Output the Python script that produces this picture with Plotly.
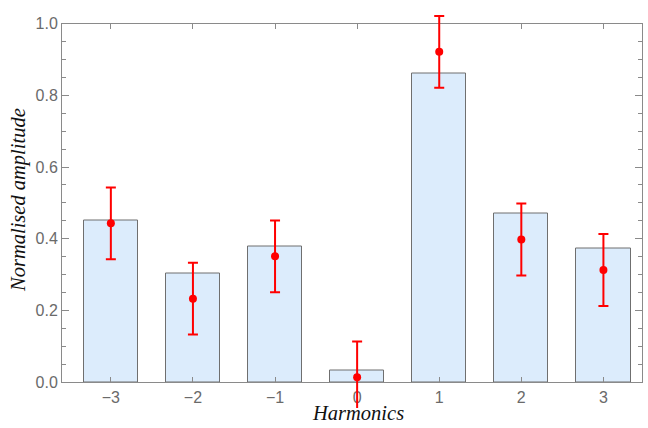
import plotly.graph_objects as go

harmonics = [-3, -2, -1, 0, 1, 2, 3]
bar_values = [0.452, 0.304, 0.379, 0.034, 0.861, 0.471, 0.374]
point_values = [0.443, 0.233, 0.351, 0.014, 0.921, 0.398, 0.313]
errors = [0.10, 0.10, 0.10, 0.10, 0.10, 0.10, 0.10]
y_ticks = [0.0, 0.2, 0.4, 0.6, 0.8, 1.0]

# layout geometry (pixels)
W, H = 648, 428
ML, MR, MT, MB = 62, 6, 4, 20
plot_h = H - MT - MB
y_bottom_px, y_top_px = 382.3, 23.5          # frame of the main axes
px_per_unit = (y_bottom_px - y_top_px) / (1.0 - 0.0)
main_domain = [(H - MB - y_bottom_px) / plot_h, (H - MB - y_top_px) / plot_h]
over_range = [-(H - MB - y_bottom_px) / px_per_unit, (y_bottom_px - MT) / px_per_unit]
x_range = [-3.595, 3.47]

fig = go.Figure()
fig.add_trace(go.Bar(
    x=harmonics, y=bar_values, width=0.66,
    marker=dict(color="#dcecfc", line=dict(color="#6f6f6f", width=1)),
    showlegend=False, hoverinfo="skip", xaxis="x", yaxis="y",
))
fig.add_trace(go.Scatter(
    x=harmonics, y=point_values, mode="markers",
    marker=dict(color="#ff0000", size=8),
    error_y=dict(type="data", array=errors, color="#ff0000", thickness=2, width=5),
    cliponaxis=False, showlegend=False, xaxis="x2", yaxis="y2",
))

frame = "#8a8a8a"
tickfont = dict(family="Liberation Sans, Arial, sans-serif", size=16, color="#6a6a6a")
titlefont = dict(family="Liberation Serif, serif", size=20.5, color="#111111")
fig.update_layout(
    width=W, height=H,
    margin=dict(l=ML, r=MR, t=MT, b=MB, autoexpand=False),
    paper_bgcolor="white", plot_bgcolor="rgba(0,0,0,0)",
    bargap=0,
    xaxis=dict(
        range=x_range, domain=[0, 1], anchor="y",
        tickvals=harmonics, ticktext=[str(h).replace("-", "\u2212") for h in harmonics],
        ticks="inside", ticklen=5, tickcolor=frame, mirror="allticks",
        showline=True, linecolor=frame, linewidth=1, showgrid=False, zeroline=False,
        tickfont=tickfont, automargin=False,
    ),
    yaxis=dict(
        range=[0, 1.0], domain=main_domain, anchor="x",
        tickvals=y_ticks, ticktext=[f"{v:.1f}" for v in y_ticks],
        ticks="inside", ticklen=7, tickcolor=frame, mirror="allticks",
        minor=dict(dtick=0.05, tick0=0, ticks="inside", ticklen=4, tickcolor=frame),
        showline=True, linecolor=frame, linewidth=1, showgrid=False, zeroline=False,
        tickfont=tickfont, automargin=False,
    ),
    xaxis2=dict(range=x_range, domain=[0, 1], anchor="y2", visible=False),
    yaxis2=dict(range=over_range, domain=[0, 1], anchor="x2", visible=False),
    annotations=[
        dict(text="<i>Harmonics</i>", xref="paper", yref="paper",
             x=(358 - ML) / (W - ML - MR), y=(H - MB - 413.5) / plot_h,
             xanchor="center", yanchor="middle", showarrow=False, font=titlefont),
        dict(text="<i>Normalised amplitude</i>", xref="paper", yref="paper",
             x=(18 - ML) / (W - ML - MR), y=(H - MB - 200) / plot_h, textangle=-90,
             xanchor="center", yanchor="middle", showarrow=False, font=titlefont),
    ],
)
fig.write_html("out.html", config={"displayModeBar": False},
               post_script="document.body.style.margin='0';document.body.style.overflow='hidden';")
